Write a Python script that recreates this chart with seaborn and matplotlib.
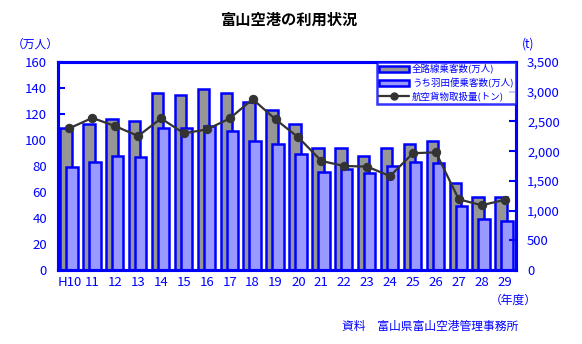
import matplotlib
matplotlib.use("Agg")
import matplotlib.pyplot as plt
from matplotlib.patches import Patch
from matplotlib.lines import Line2D
from matplotlib.ticker import FuncFormatter, MultipleLocator, FixedLocator
import seaborn as sns
import pandas as pd
import numpy as np

# 年度別の利用実績
years = ["H10", "11", "12", "13", "14", "15", "16", "17", "18", "19",
         "20", "21", "22", "23", "24", "25", "26", "27", "28", "29"]
all_routes = [109, 112, 116, 115, 136, 135, 139, 136, 129.5, 123,
              112, 94, 94, 88, 94, 97, 99, 67, 56, 56]          # 全路線乗客数(万人)
haneda = [79.5, 83, 87.5, 87, 109.5, 109, 111, 107, 99.5, 97,
          89, 75.5, 78, 75, 80, 83, 82.5, 49.5, 39, 37.5]      # うち羽田便乗客数(万人)
cargo = [2385, 2560, 2420, 2255, 2550, 2300, 2365, 2550, 2875, 2535,
         2230, 1835, 1750, 1740, 1580, 1965, 1980, 1190, 1090, 1180]  # 航空貨物取扱量(トン)

BLUE = "#0000FF"
GRAY = "#969696"
LIGHT = "#9999FF"
LINE = "#333333"

sns.set_style("white")
plt.rcParams["font.family"] = ["Noto Sans CJK JP", "DejaVu Sans"]

df = pd.DataFrame({"year": years, "all": all_routes, "haneda": haneda, "cargo": cargo})

fig = plt.figure(figsize=(5.82, 3.44), dpi=100)
ax = fig.add_axes([58 / 582, 74 / 344, 458 / 582, 208 / 344])

bar_w = 0.5
sns.barplot(data=df, x="year", y="all", ax=ax, color=GRAY, width=bar_w,
            edgecolor=BLUE, linewidth=1.8, saturation=1)
n_first = len(ax.patches)
for p in ax.patches:
    p.set_x(p.get_x() - 0.15)
sns.barplot(data=df, x="year", y="haneda", ax=ax, color=LIGHT, width=bar_w,
            edgecolor=BLUE, linewidth=1.8, saturation=1)
for p in ax.patches[n_first:]:
    p.set_x(p.get_x() + 0.11)

ax.set_xlim(-0.5, len(years) - 0.5)
ax.set_ylim(0, 160)
ax.yaxis.set_major_locator(MultipleLocator(20))
ax.set_xlabel("")
ax.set_ylabel("")
ax.xaxis.set_minor_locator(FixedLocator(np.arange(0.5, len(years) - 1, 1.0)))
ax.tick_params(axis="x", which="major", length=0, colors=BLUE, labelsize=9.5, pad=4)
ax.tick_params(axis="x", which="minor", direction="in", length=3, width=1.2, color=BLUE)
ax.tick_params(axis="y", direction="in", length=5, width=1.5, colors=BLUE, labelsize=9.5, pad=8)
for s in ax.spines.values():
    s.set_color(BLUE)
    s.set_linewidth(2.2)

ax2 = ax.twinx()
sns.lineplot(x=np.arange(len(years)), y=df["cargo"].values, ax=ax2, color=LINE,
             linewidth=1.6, marker="o", markersize=6, markeredgecolor=LINE,
             markerfacecolor=LINE)
ax2.set_ylim(0, 3500)
ax2.set_xlim(-0.5, len(years) - 0.5)
ax2.yaxis.set_major_locator(MultipleLocator(500))
ax2.yaxis.set_major_formatter(FuncFormatter(lambda v, _: f"{int(v):,}"))
ax2.tick_params(axis="y", direction="in", length=5, width=1.5, colors=BLUE, labelsize=9.5, pad=8)
for s in ax2.spines.values():
    s.set_color(BLUE)
    s.set_linewidth(2.2)

handles = [
    Patch(facecolor=GRAY, edgecolor=BLUE, linewidth=1.8, label="全路線乗客数(万人)"),
    Patch(facecolor=LIGHT, edgecolor=BLUE, linewidth=1.8, label="うち羽田便乗客数(万人)"),
    Line2D([0], [0], color=LINE, linewidth=1.6, marker="o", markersize=5, label="航空貨物取扱量(トン)"),
]
leg = ax2.legend(handles=handles, loc="upper right", bbox_to_anchor=(1.0, 1.0),
                 fontsize=6.8, frameon=True, fancybox=False, borderpad=0.25,
                 labelspacing=0.35, handlelength=3.2, handleheight=0.6,
                 handletextpad=0.3, borderaxespad=0)
leg.get_frame().set_edgecolor(BLUE)
leg.get_frame().set_linewidth(1.8)
for t in leg.get_texts():
    t.set_color(BLUE)

fig.text(290 / 582, 1 - 20 / 344, "富山空港の利用状況", ha="center", va="center",
         fontsize=11, fontweight="bold", color="black")
fig.text(35 / 582, 1 - 44 / 344, "（万人）", ha="center", va="center", fontsize=8.5, color=BLUE)
fig.text(528 / 582, 1 - 44 / 344, "(t)", ha="center", va="center", fontsize=8.5, color=BLUE)
fig.text(513 / 582, 1 - 300 / 344, "（年度）", ha="center", va="center", fontsize=8.5, color=BLUE)
fig.text(430 / 582, 1 - 326 / 344, "資料　富山県富山空港管理事務所", ha="center", va="center",
         fontsize=8.5, color=BLUE)

fig.savefig("out.png", dpi=100)
